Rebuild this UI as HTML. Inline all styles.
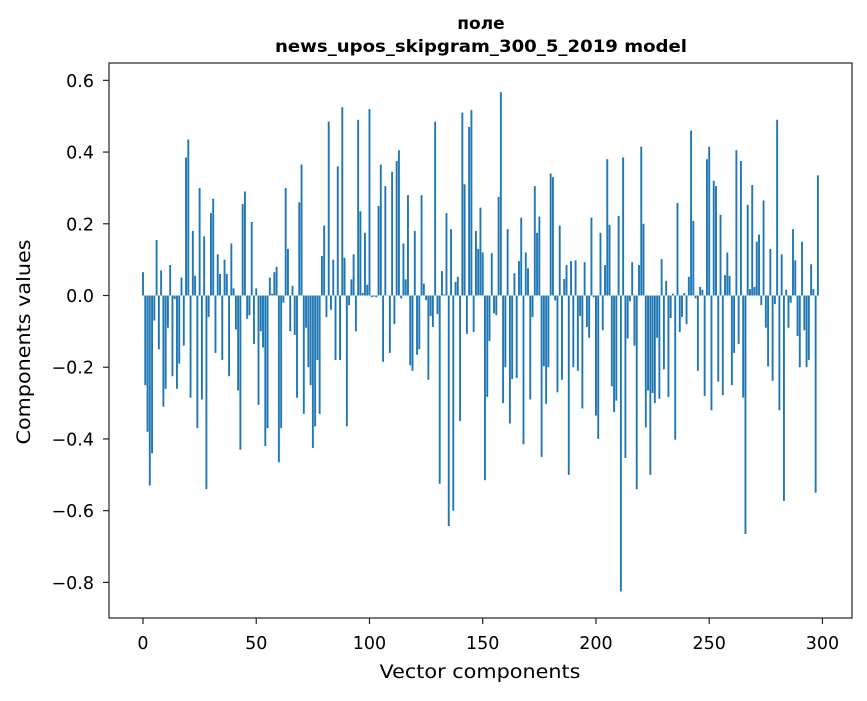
<!DOCTYPE html>
<html><head><meta charset="utf-8"><style>
body{margin:0;background:#fff;}
svg text{font-family:"DejaVu Sans","Liberation Sans",sans-serif;fill:#000;}
</style></head><body>
<svg id="chart" width="867" height="696" xmlns="http://www.w3.org/2000/svg">
<rect width="867" height="696" fill="#fff"/>
<text x="481" y="29" font-size="17" font-weight="bold" text-anchor="middle" font-family="Liberation Sans, sans-serif">поле</text>
<text x="481" y="52" font-size="17" font-weight="bold" text-anchor="middle" font-family="Liberation Sans, sans-serif" textLength="412" lengthAdjust="spacingAndGlyphs">news_upos_skipgram_300_5_2019 model</text>
<g id="bars"></g>
<g id="axes"></g>
<rect x="109" y="63" width="743" height="555" fill="none" stroke="#222" stroke-width="1.2"/>
<text x="480" y="678" font-size="19" text-anchor="middle" textLength="201" lengthAdjust="spacingAndGlyphs">Vector components</text>
<text transform="translate(30,342) rotate(-90)" font-size="19" text-anchor="middle" textLength="205" lengthAdjust="spacingAndGlyphs">Components values</text>
</svg>
<script>
const values = [
0.065,-0.25,-0.38,-0.53,-0.44,-0.07,0.155,-0.15,0.07,-0.31,-0.26,-0.09,0.085,-0.225,-0.01,-0.26,-0.19,0.05,-0.14,0.385,
0.435,-0.285,0.18,0.055,-0.37,0.30,-0.29,0.165,-0.54,-0.06,0.23,0.27,-0.16,0.115,0.06,-0.18,0.1,0.06,-0.225,0.145,
0.02,-0.095,-0.265,-0.43,0.255,0.29,-0.065,-0.055,0.205,-0.135,
0.02,-0.305,-0.1,-0.145,-0.42,-0.37,0.05,0.005,0.065,0.08,-0.465,-0.37,-0.02,0.30,0.13,-0.1,0.027,-0.11,-0.285,0.26,
0.365,-0.33,-0.09,-0.2,-0.25,-0.425,-0.365,-0.18,-0.33,0.11,0.195,-0.06,0.485,-0.04,0.1,-0.18,0.36,-0.18,0.525,0.105,
-0.365,-0.027,0.045,0.115,-0.1,0.49,0.235,0.007,0.175,0.03,
0.52,-0.005,-0.003,-0.005,0.25,0.365,-0.185,0.305,0,-0.16,0.345,-0.08,0.375,0.405,-0.008,0.145,0.045,0.28,-0.195,-0.21,
0.18,-0.165,-0.15,0.28,0.033,-0.013,-0.235,-0.057,-0.088,0.485,-0.052,-0.525,0.068,0.003,0.23,-0.643,0.185,-0.6,0.038,0.052,
-0.35,0.51,0.31,-0.107,0.47,0.517,-0.102,0.18,0.13,0.245,
0.12,-0.515,-0.283,-0.127,0.118,-0.05,-0.055,0.275,0.567,-0.3,-0.2,0.185,-0.357,-0.233,0.062,-0.23,0.096,0.217,-0.415,0.12,
0.076,-0.29,-0.06,0.305,0.175,0.22,-0.45,-0.197,-0.302,-0.2,0.34,0.33,-0.014,-0.27,0.195,-0.235,0.046,0.085,-0.5,0.096,
-0.2,0.098,-0.21,-0.057,-0.315,0.093,-0.088,-0.118,0.217,-0.005,
-0.335,-0.4,0.175,-0.097,0.085,0.38,0.197,-0.253,-0.325,-0.293,0.222,-0.825,0.385,-0.453,-0.12,-0.016,0.093,-0.14,-0.54,0.085,
0.415,0.2,-0.368,-0.265,-0.5,-0.272,-0.3,-0.118,-0.288,0.101,-0.206,0.041,-0.283,-0.063,0.005,-0.402,0.258,-0.102,-0.06,0.007,
-0.08,0.052,0.46,0.208,-0.008,-0.21,0.024,0.016,-0.28,0.38,
0.415,-0.32,0.32,0.305,-0.24,0.225,-0.278,0.057,0.12,0.055,-0.25,-0.16,0.405,-0.135,0.375,-0.285,-0.665,0.253,0.018,0.308,
0.024,0.15,0.17,-0.027,0.265,-0.09,-0.198,0.13,-0.238,-0.024,0.49,-0.32,0.115,-0.573,0.016,-0.09,-0.02,0.185,0.098,-0.113,
-0.2,0.15,-0.097,-0.2,-0.18,0.087,0.018,-0.55,0.335
];
const categories = values.map((v,i)=>i);
const xTicks = [0,50,100,150,200,250,300];
const yTicks = [0.6,0.4,0.2,0.0,-0.2,-0.4,-0.6,-0.8];
const yTickLabels = ["0.6","0.4","0.2","0.0","\u22120.2","\u22120.4","\u22120.6","\u22120.8"];

const NS="http://www.w3.org/2000/svg";
function xScale(i){return 143+i*2.2648;}
function yScale(v){return 295.5-v*358.6;}
const bars=document.getElementById('bars');
categories.forEach((c,k)=>{
  const v=values[k];
  const r=document.createElementNS(NS,'rect');
  const y0=yScale(0), y1=yScale(v);
  r.setAttribute('x',(xScale(c)-0.95).toFixed(2));
  r.setAttribute('width','1.9');
  r.setAttribute('y',Math.min(y0,y1).toFixed(2));
  r.setAttribute('height',Math.max(Math.abs(y1-y0),0.3).toFixed(2));
  r.setAttribute('fill','#1f77b4');
  
  
  bars.appendChild(r);
});
const axes=document.getElementById('axes');
xTicks.forEach(t=>{
  const x=xScale(t);
  const l=document.createElementNS(NS,'line');
  l.setAttribute('x1',x);l.setAttribute('x2',x);l.setAttribute('y1',618);l.setAttribute('y2',624);
  l.setAttribute('stroke','#222');l.setAttribute('stroke-width','1.2');
  
  
  axes.appendChild(l);
  const tx=document.createElementNS(NS,'text');
  tx.setAttribute('x',x);tx.setAttribute('y',649);tx.setAttribute('font-size','17.5');tx.setAttribute('text-anchor','middle');
  tx.textContent=String(t);
  
  
  axes.appendChild(tx);
});
yTicks.forEach((t,k)=>{
  const y=yScale(t);
  const l=document.createElementNS(NS,'line');
  l.setAttribute('x1',103);l.setAttribute('x2',109);l.setAttribute('y1',y);l.setAttribute('y2',y);
  l.setAttribute('stroke','#222');l.setAttribute('stroke-width','1.2');
  
  
  axes.appendChild(l);
  const tx=document.createElementNS(NS,'text');
  tx.setAttribute('x',94);tx.setAttribute('y',y+6.5);tx.setAttribute('font-size','17.5');tx.setAttribute('text-anchor','end');
  tx.textContent=yTickLabels[k];
  
  
  axes.appendChild(tx);
});
</script>
</body></html>
